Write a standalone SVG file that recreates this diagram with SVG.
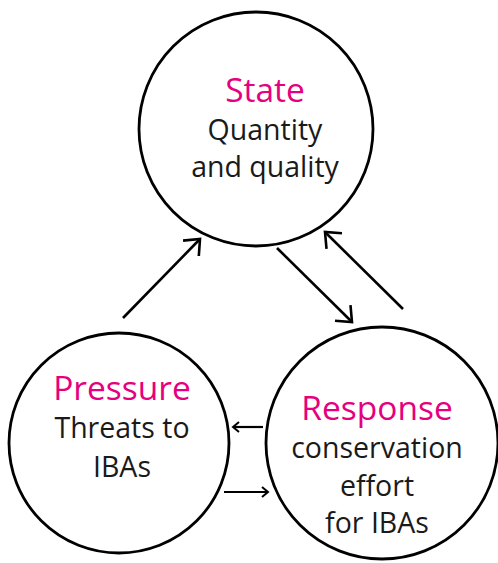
<svg xmlns="http://www.w3.org/2000/svg" width="498" height="563" viewBox="0 0 498 563">
<style>
.node circle{fill:#fff;stroke:#000;stroke-width:2.8}
.title{font-family:"Open Sans","Noto Sans",sans-serif;font-size:33.5px;fill:#E6007E;text-anchor:middle}
.body{font-family:"Open Sans","Noto Sans",sans-serif;font-size:28.5px;fill:#1a1a1a;text-anchor:middle}
.conn line{stroke:#000;fill:none}
</style>
<defs>
<marker id="big" markerUnits="userSpaceOnUse" markerWidth="20" markerHeight="24" viewBox="0 0 20 24" refX="16" refY="12" orient="auto" overflow="visible">
<path d="M3,1 L16,12 L3,23" fill="none" stroke="#000" stroke-width="2.6"/>
</marker>
<marker id="small" markerUnits="userSpaceOnUse" markerWidth="12" markerHeight="14" viewBox="0 0 12 14" refX="10" refY="7" orient="auto" overflow="visible">
<path d="M4,2 L10,7 L4,12" fill="none" stroke="#000" stroke-width="2"/>
</marker>
</defs>
<g id="state" class="node">
<circle cx="256" cy="129" r="117"/>
<text class="title" x="265" y="102">State</text>
<text class="body" x="265" y="140">Quantity</text>
<text class="body" x="265" y="177">and quality</text>
</g>
<g id="pressure" class="node">
<circle cx="119" cy="443" r="110"/>
<text class="title" x="122" y="400">Pressure</text>
<text class="body" x="122" y="438">Threats to</text>
<text class="body" x="122" y="477">IBAs</text>
</g>
<g id="response" class="node">
<circle cx="382" cy="443" r="116"/>
<text class="title" x="377" y="420">Response</text>
<text class="body" x="377" y="458">conservation</text>
<text class="body" x="377" y="496">effort</text>
<text class="body" x="377" y="533">for IBAs</text>
</g>
<g id="connectors" class="conn">
<line x1="123" y1="318" x2="200" y2="239" stroke-width="2.6" marker-end="url(#big)"/>
<line x1="277" y1="248" x2="352" y2="322" stroke-width="2.6" marker-end="url(#big)"/>
<line x1="403" y1="309" x2="325" y2="232" stroke-width="2.6" marker-end="url(#big)"/>
<line x1="263" y1="427" x2="233" y2="427" stroke-width="2.2" marker-end="url(#small)"/>
<line x1="224" y1="492" x2="268" y2="492" stroke-width="2.2" marker-end="url(#small)"/>
</g>
</svg>
